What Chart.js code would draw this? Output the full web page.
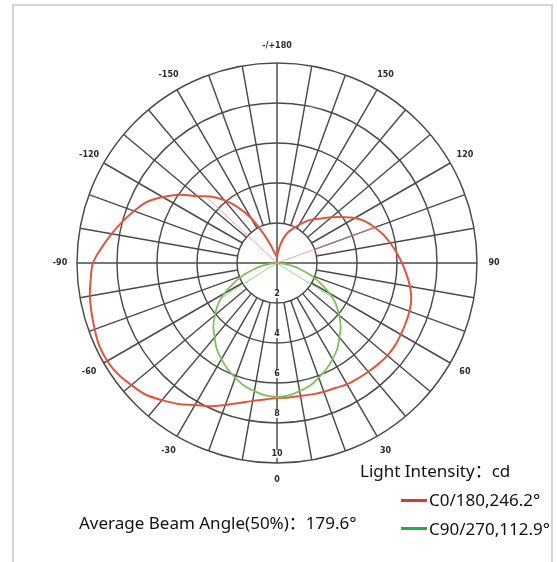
<!DOCTYPE html>
<html>
<head>
<meta charset="utf-8">
<script src="https://cdn.jsdelivr.net/npm/chart.js@4.4.0/dist/chart.umd.min.js"></script>
<style>
  body { margin: 0; background: #fff; overflow: hidden; }
  #wrap { position: relative; width: 557px; height: 562px; }
  #frame { position: absolute; left: 12px; top: 4px; width: 537px; height: 600px; border: 2px solid #d4d4d4; }
  #chart { position: absolute; left: 0; top: 0; }
  .txt { position: absolute; font-family: "Noto Sans", "Noto Sans CJK SC", sans-serif; font-size: 17px; color: #111; line-height: 20px; white-space: nowrap; }
  .swatch { position: absolute; width: 26px; height: 3px; }
</style>
</head>
<body>
<div id="wrap">
  <div id="frame"></div>
  <canvas id="chart" width="557" height="562"></canvas>
  <div class="txt" style="left:360px; top:461px;">Light Intensity：cd</div>
  <div class="swatch" style="left:401px; top:499px; background:#e8322c;"></div>
  <div class="txt" id="lg0" style="left:429px; top:490px;"></div>
  <div class="swatch" style="left:401px; top:527px; background:#1fad45;"></div>
  <div class="txt" id="lg1" style="left:429px; top:519px;"></div>
  <div class="txt" style="left:79px; top:513px;">Average Beam Angle(50%)：179.6°</div>
</div>
<script>
// angles: 0 = down, positive to the right (C0/C90 side)
const angles = [-180,-175,-170,-165,-160,-155,-150,-145,-140,-135,-130,-125,-120,-115,-110,-105,-100,-95,
  -90,-85,-80,-75,-70,-65,-60,-55,-50,-45,-40,-35,-30,-25,-20,-15,-10,-5,
  0,5,10,15,20,25,30,35,40,45,50,55,60,65,70,75,80,85,
  90,95,100,105,110,115,120,125,130,135,140,145,150,155,160,165,170,175,180];

const c0Values = [0.3,0.35,0.45,0.6,1.0,1.65,2.6,3.4,4.1,4.7,5.2,5.95,6.6,7.2,7.6,8.0,8.4,8.8,
  9.2,9.35,9.5,9.6,9.7,9.8,9.8,9.7,9.5,9.3,8.95,8.6,8.2,7.9,7.55,7.25,7.0,6.85,
  6.75,6.75,6.75,6.8,6.85,6.9,7.0,7.05,7.1,7.15,7.2,7.2,7.15,7.1,7.05,6.95,6.75,6.5,
  6.25,6.0,5.75,5.5,5.2,4.9,4.5,4.0,3.55,3.15,2.85,2.55,2.2,1.9,1.65,1.3,0.9,0.5,0.3];

const c90Values = [0,0,0,0,0,0,0,0,0,0,0,0,0,0,0,0,0,0,
  0.05,0.3,0.7,1.2,1.8,2.4,3.05,3.6,4.05,4.5,4.85,5.25,5.55,5.85,6.1,6.35,6.5,6.65,
  6.7,6.65,6.5,6.35,6.1,5.85,5.55,5.25,4.85,4.5,4.05,3.6,3.05,2.4,1.8,1.2,0.7,0.3,
  0.05,0,0,0,0,0,0,0,0,0,0,0,0,0,0,0,0,0,0];

// half-intensity beam lines [angle, value]
const c0Beam = [[-133, 4.85], [110, 5.2]];
const c90Beam = [[-58, 3.3], [58, 3.3]];

const ringTicks = [2, 4, 6, 8, 10];
const angleTicks = [0, 30, 60, 90, 120, 150, 180, -150, -120, -90, -60, -30];
const angleLabels = ['0', '30', '60', '90', '120', '150', '-/+180', '-150', '-120', '-90', '-60', '-30'];

const seriesNames = ['C0/180,246.2°', 'C90/270,112.9°'];
document.getElementById('lg0').textContent = seriesNames[0];
document.getElementById('lg1').textContent = seriesNames[1];

function toXY(a, r) {
  const t = a * Math.PI / 180;
  return { x: r * Math.sin(t), y: -r * Math.cos(t) };
}

function curve(vals) {
  return angles.map((a, i) => toXY(a, vals[i]));
}

function beam(list) {
  return [toXY(list[0][0], list[0][1]), { x: 0, y: 0 }, toXY(list[1][0], list[1][1])];
}

const polarGrid = {
  id: 'polarGrid',
  beforeDatasetsDraw(chart) {
    const ctx = chart.ctx;
    const xs = chart.scales.x, ys = chart.scales.y;
    const cx = xs.getPixelForValue(0), cy = ys.getPixelForValue(0);
    const rad = v => xs.getPixelForValue(v) - cx;
    const rMax = rad(ringTicks[ringTicks.length - 1]);
    const rMin = rad(ringTicks[0]);
    ctx.save();
    ctx.strokeStyle = '#4a4a4a';
    ctx.lineWidth = 1.45;
    ringTicks.forEach(v => {
      ctx.beginPath();
      ctx.arc(cx, cy, rad(v), 0, Math.PI * 2);
      ctx.stroke();
    });
    for (let a = 0; a < 360; a += 10) {
      const t = a * Math.PI / 180;
      const r0 = a % 90 === 0 ? 0 : rMin;
      ctx.beginPath();
      ctx.moveTo(cx + r0 * Math.sin(t), cy + r0 * Math.cos(t));
      ctx.lineTo(cx + rMax * Math.sin(t), cy + rMax * Math.cos(t));
      ctx.stroke();
    }
    // angle labels
    ctx.fillStyle = '#2a2a2a';
    ctx.font = 'bold 8px "DejaVu Sans"';
    ctx.textAlign = 'center';
    ctx.textBaseline = 'middle';
    const rl = rad(10.85);
    angleTicks.forEach((a, i) => {
      const t = a * Math.PI / 180;
      ctx.fillText(angleLabels[i], cx + rl * Math.sin(t), cy + rl * Math.cos(t));
    });
    // radial labels along the lower axis
    ringTicks.forEach(v => {
      const y = cy + rad(v - 0.45);
      const s = String(v);
      const w = ctx.measureText(s).width;
      ctx.fillStyle = '#fff';
      ctx.fillRect(cx - w / 2 - 1, y - 4, w + 2, 8);
      ctx.fillStyle = '#2a2a2a';
      ctx.fillText(s, cx, y);
    });
    ctx.restore();
  }
};

new Chart(document.getElementById('chart'), {
  type: 'scatter',
  data: {
    datasets: [
      { label: seriesNames[1] + ' beam', data: beam(c90Beam), showLine: true, borderColor: 'rgba(130,200,110,0.8)', borderWidth: 1, pointRadius: 0, tension: 0 },
      { label: seriesNames[0] + ' beam', data: beam(c0Beam), showLine: true, borderColor: 'rgba(240,140,120,0.8)', borderWidth: 1, pointRadius: 0, tension: 0 },
      { label: seriesNames[1], data: curve(c90Values), showLine: true, borderColor: '#7cc25a', borderWidth: 1.8, pointRadius: 0, tension: 0.35 },
      { label: seriesNames[0], data: curve(c0Values), showLine: true, borderColor: '#e2543f', borderWidth: 2, pointRadius: 0, tension: 0.35 }
    ]
  },
  options: {
    responsive: false,
    animation: false,
    devicePixelRatio: 1,
    layout: { padding: { left: 77, right: 80, top: 63, bottom: 99 } },
    scales: {
      x: { type: 'linear', min: -10, max: 10, display: false },
      y: { type: 'linear', min: -10, max: 10, display: false }
    },
    plugins: { legend: { display: false }, tooltip: { enabled: false } }
  },
  plugins: [polarGrid]
});
</script>
</body>
</html>
